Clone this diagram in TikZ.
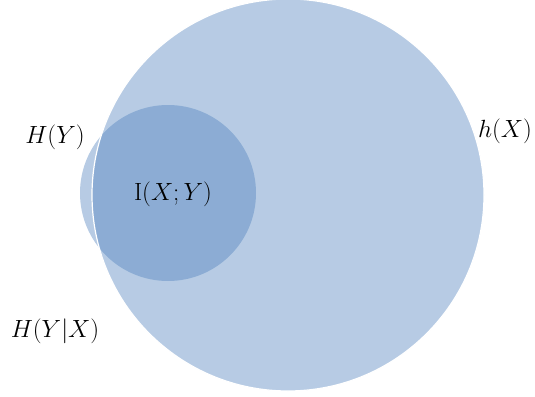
\documentclass[tikz,border=0pt]{standalone}
\definecolor{vennblue}{HTML}{4F81BD}

\begin{document}
\begin{tikzpicture}[x=1pt,y=-1pt,font=\fontsize{24}{28}\selectfont,
  setfill/.style={fill=vennblue,fill opacity=0.41}]
\useasboundingbox (0,0) rectangle (535,396);
% small circle H(Y), then large circle h(X) on top
\fill[setfill] (168,193) circle (88);
\draw[setfill,draw=white,line width=1.2pt] (288,195) circle (196);
\node (hy) at (55,137) {$H(Y)$};
\node (hx) at (505,131) {$h(X)$};
\node (hyx) at (55,331) {$H(Y|X)$};
\node (ixy) at (173,194) {$\mathrm{I}(X;Y)$};
\end{tikzpicture}
\end{document}
